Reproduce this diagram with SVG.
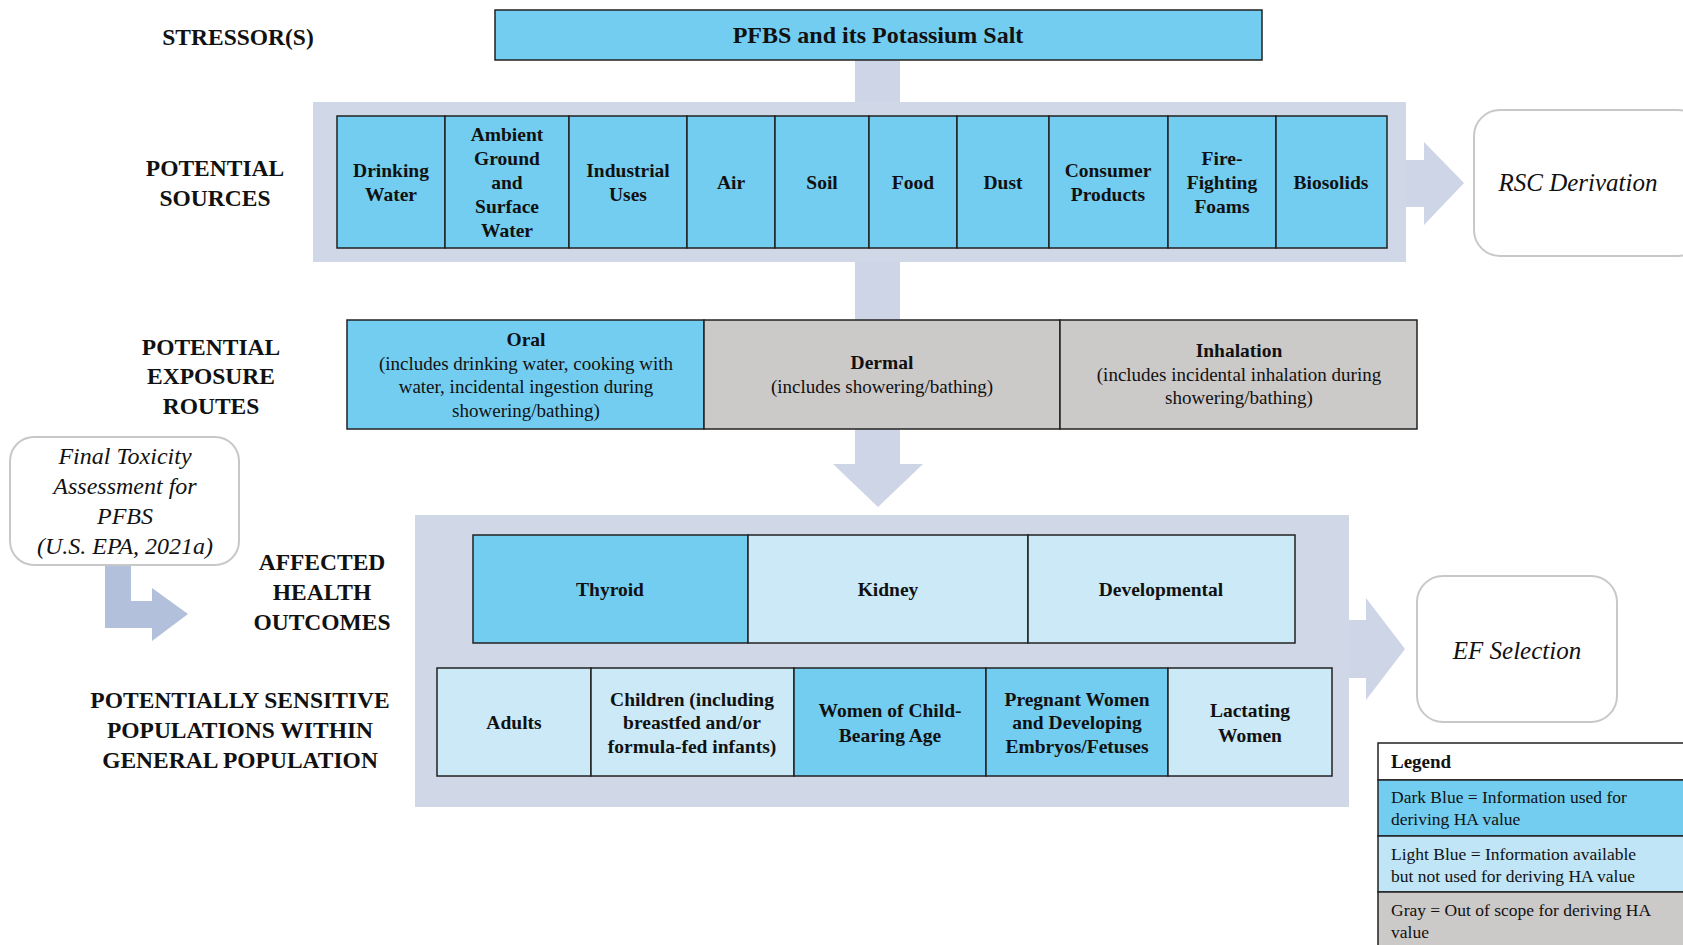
<svg xmlns="http://www.w3.org/2000/svg" width="1683" height="945" viewBox="0 0 1683 945">
<style>
.lbl{font-family:"Liberation Serif","Times New Roman",serif;font-weight:bold;font-size:23.5px;fill:#111;text-anchor:middle}
.cb{font-family:"Liberation Serif","Times New Roman",serif;font-weight:bold;font-size:19.5px;fill:#111;text-anchor:middle}
.cr{font-family:"Liberation Serif","Times New Roman",serif;font-size:19px;fill:#111;text-anchor:middle}
.it{font-family:"Liberation Serif","Times New Roman",serif;font-style:italic;font-size:25px;fill:#111;text-anchor:middle}
.lg{font-family:"Liberation Serif","Times New Roman",serif;font-size:17.5px;fill:#111}
.dark{fill:#72cdf0;stroke:#222;stroke-width:1.5}
.light{fill:#cbe9f6;stroke:#222;stroke-width:1.5}
.gray{fill:#ccc9c9;stroke:#222;stroke-width:1.5}
.band{fill:#d0d7e7}
.conn{fill:#cdd5e6}
.rbox{fill:#fff;stroke:#c8c8c8;stroke-width:2}
</style>

<!-- row labels -->
<text class="lbl" x="238" y="45">STRESSOR(S)</text>
<text class="lbl" x="215" y="176">POTENTIAL</text>
<text class="lbl" x="215" y="206">SOURCES</text>
<text class="lbl" x="211" y="355">POTENTIAL</text>
<text class="lbl" x="211" y="384">EXPOSURE</text>
<text class="lbl" x="211" y="414">ROUTES</text>
<text class="lbl" x="322" y="570">AFFECTED</text>
<text class="lbl" x="322" y="600">HEALTH</text>
<text class="lbl" x="322" y="630">OUTCOMES</text>
<text class="lbl" x="240" y="708">POTENTIALLY SENSITIVE</text>
<text class="lbl" x="240" y="738">POPULATIONS WITHIN</text>
<text class="lbl" x="240" y="768">GENERAL POPULATION</text>

<!-- connectors -->
<g id="connectors">
  <rect class="conn" x="855" y="60" width="45" height="45"/>
  <rect class="conn" x="855" y="260" width="45" height="62"/>
  <polygon class="conn" points="855,429 900,429 900,464 923,464 878,507 833,464 855,464"/>
  <polygon class="conn" points="1404,160 1424,160 1424,142 1464,183 1424,225 1424,207 1404,207"/>
  <polygon class="conn" points="1347,620 1366,620 1366,598 1405,649 1366,700 1366,678 1347,678"/>
  <polygon fill="#b3c0db" points="105,565 131,565 131,601 152,601 152,588 188,614 152,641 152,628 105,628"/>
</g>

<!-- bands -->
<rect class="band" x="313" y="102" width="1093" height="160"/>
<rect class="band" x="415" y="515" width="934" height="292"/>

<g id="stressor">
  <rect class="dark" x="495" y="10" width="767" height="50"/>
  <text class="cb" x="878" y="43" style="font-size:24px">PFBS and its Potassium Salt</text>
</g>

<g id="sources">
  <rect class="dark" x="337" y="116" width="108" height="132"/>
  <text class="cb" x="391" y="177">Drinking</text><text class="cb" x="391" y="201">Water</text>
  <rect class="dark" x="445" y="116" width="124" height="132"/>
  <text class="cb" x="507" y="141">Ambient</text><text class="cb" x="507" y="165">Ground</text><text class="cb" x="507" y="189">and</text><text class="cb" x="507" y="213">Surface</text><text class="cb" x="507" y="237">Water</text>
  <rect class="dark" x="569" y="116" width="118" height="132"/>
  <text class="cb" x="628" y="177">Industrial</text><text class="cb" x="628" y="201">Uses</text>
  <rect class="dark" x="687" y="116" width="88" height="132"/>
  <text class="cb" x="731" y="189">Air</text>
  <rect class="dark" x="775" y="116" width="94" height="132"/>
  <text class="cb" x="822" y="189">Soil</text>
  <rect class="dark" x="869" y="116" width="88" height="132"/>
  <text class="cb" x="913" y="189">Food</text>
  <rect class="dark" x="957" y="116" width="92" height="132"/>
  <text class="cb" x="1003" y="189">Dust</text>
  <rect class="dark" x="1049" y="116" width="119" height="132"/>
  <text class="cb" x="1108" y="177">Consumer</text><text class="cb" x="1108" y="201">Products</text>
  <rect class="dark" x="1168" y="116" width="108" height="132"/>
  <text class="cb" x="1222" y="165">Fire-</text><text class="cb" x="1222" y="189">Fighting</text><text class="cb" x="1222" y="213">Foams</text>
  <rect class="dark" x="1276" y="116" width="111" height="132"/>
  <text class="cb" x="1331" y="189">Biosolids</text>
</g>

<g id="rsc">
  <rect class="rbox" x="1474" y="110" width="230" height="146" rx="26"/>
  <text class="it" x="1578" y="191">RSC Derivation</text>
</g>

<g id="exposure">
  <rect class="dark" x="347" y="320" width="357" height="109"/>
  <text class="cb" x="526" y="346">Oral</text>
  <text class="cr" x="526" y="370">(includes drinking  water, cooking with</text>
  <text class="cr" x="526" y="393">water, incidental ingestion during</text>
  <text class="cr" x="526" y="417">showering/bathing)</text>
  <rect class="gray" x="704" y="320" width="356" height="109"/>
  <text class="cb" x="882" y="369">Dermal</text>
  <text class="cr" x="882" y="393">(includes showering/bathing)</text>
  <rect class="gray" x="1060" y="320" width="357" height="109"/>
  <text class="cb" x="1239" y="357">Inhalation</text>
  <text class="cr" x="1239" y="381">(includes incidental inhalation during</text>
  <text class="cr" x="1239" y="404">showering/bathing)</text>
</g>

<g id="toxicity">
  <rect class="rbox" x="10" y="437" width="229" height="128" rx="24"/>
  <text class="it" x="125" y="464" style="font-size:24px">Final Toxicity</text>
  <text class="it" x="125" y="494" style="font-size:24px">Assessment for</text>
  <text class="it" x="125" y="524" style="font-size:24px">PFBS</text>
  <text class="it" x="125" y="554" style="font-size:24px">(U.S. EPA, 2021a)</text>
</g>

<g id="health">
  <rect class="dark" x="473" y="535" width="275" height="108"/>
  <text class="cb" x="610" y="596">Thyroid</text>
  <rect class="light" x="748" y="535" width="280" height="108"/>
  <text class="cb" x="888" y="596">Kidney</text>
  <rect class="light" x="1028" y="535" width="267" height="108"/>
  <text class="cb" x="1161" y="596">Developmental</text>
</g>

<g id="populations">
  <rect class="light" x="437" y="668" width="154" height="108"/>
  <text class="cb" x="514" y="729">Adults</text>
  <rect class="light" x="591" y="668" width="203" height="108"/>
  <text class="cb" x="692" y="706">Children (including</text><text class="cb" x="692" y="729">breastfed and/or</text><text class="cb" x="692" y="753">formula-fed infants)</text>
  <rect class="dark" x="794" y="668" width="192" height="108"/>
  <text class="cb" x="890" y="717">Women of Child-</text><text class="cb" x="890" y="742">Bearing Age</text>
  <rect class="dark" x="986" y="668" width="182" height="108"/>
  <text class="cb" x="1077" y="706">Pregnant Women</text><text class="cb" x="1077" y="729">and Developing</text><text class="cb" x="1077" y="753">Embryos/Fetuses</text>
  <rect class="light" x="1168" y="668" width="164" height="108"/>
  <text class="cb" x="1250" y="717">Lactating</text><text class="cb" x="1250" y="742">Women</text>
</g>

<g id="ef">
  <rect class="rbox" x="1417" y="576" width="200" height="146" rx="26"/>
  <text class="it" x="1517" y="659">EF Selection</text>
</g>

<g id="legend">
  <rect fill="#fff" stroke="#222" stroke-width="1.5" x="1378" y="743" width="310" height="37"/>
  <text class="lg" x="1391" y="768" style="font-weight:bold;font-size:19px">Legend</text>
  <rect class="dark" x="1378" y="780" width="310" height="56"/>
  <text class="lg" x="1391" y="803">Dark Blue = Information  used for</text>
  <text class="lg" x="1391" y="825">deriving HA value</text>
  <rect fill="#bfe5f6" stroke="#222" stroke-width="1.5" x="1378" y="836" width="310" height="56"/>
  <text class="lg" x="1391" y="860">Light Blue = Information  available</text>
  <text class="lg" x="1391" y="882">but not used for deriving HA value</text>
  <rect class="gray" x="1378" y="892" width="310" height="60"/>
  <text class="lg" x="1391" y="916">Gray = Out of scope for deriving HA</text>
  <text class="lg" x="1391" y="938">value</text>
</g>
</svg>
